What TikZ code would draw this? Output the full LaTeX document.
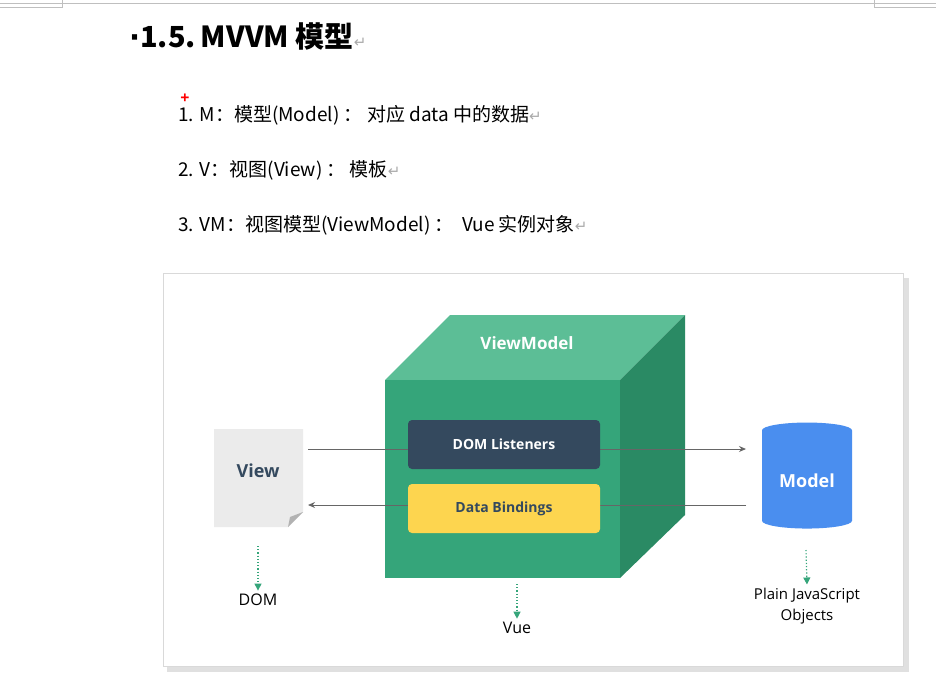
\documentclass[tikz,border=0pt]{standalone}
\usepackage{fontspec}
\setmainfont{Open Sans}
\newfontfamily\cjk{Noto Sans CJK SC}
\newfontfamily\retfont{DejaVu Sans}
\usetikzlibrary{positioning, arrows.meta, shapes.geometric}
\definecolor{vmfront}{HTML}{35A57A}
\definecolor{vmtop}{HTML}{5CBE96}
\definecolor{vmside}{HTML}{2A8A64}
\definecolor{navy}{HTML}{34495E}
\definecolor{bindyel}{HTML}{FDD54F}
\definecolor{modelblue}{HTML}{4A8EEF}
\definecolor{retgray}{HTML}{AAAAAA}
\newcommand{\retmark}{\textcolor{retgray}{\retfont\mdseries\fontsize{15}{15}\selectfont ↵}}
\tikzset{
  item/.style={anchor=base west, font=\fontsize{19}{22}\selectfont\cjk, inner sep=0pt},
  vmbox/.style={rounded corners=4pt, minimum width=192pt, minimum height=49pt, font=\fontsize{14}{16}\selectfont\bfseries},
  flow/.style={-{Stealth[length=7pt,width=6pt]}, draw=black!60, line width=1pt},
  down/.style={-{Triangle[length=7pt,width=7pt]}, draw=vmfront, dotted, line width=1.2pt},
  caption/.style={font=\fontsize{16}{19}\selectfont, align=center}
}
\begin{document}
\begin{tikzpicture}[x=1pt, y=-1pt]
    \useasboundingbox (0,0) rectangle (936,699);
    \fill[white] (0,0) rectangle (936,699);
    % page edge
    \draw[black!25] (0,3) -- (936,3);
    \draw[black!25] (62,0) -- (62,7) -- (0,7);
    \draw[black!25] (874,0) -- (874,7) -- (936,7);
    % heading and list
    \node[item, font=\fontsize{29}{32}\selectfont\cjk\bfseries] (title) at (129,47) {{\retfont\bfseries·}1.5.\,MVVM 模型\retmark};
    \node[item] (m1) at (178,121) {1. M：模型(Model) ： 对应 data 中的数据\retmark};
    \node[item] (m2) at (178,176) {2. V：视图(View) ： 模板\retmark};
    \node[item] (m3) at (178,231) {3. VM：视图模型(ViewModel) ：\ \ Vue 实例对象\retmark};
    \node[red, font=\bfseries\fontsize{16}{16}\selectfont, inner sep=0pt] (mark) at (185,99) {+};
    % card
    \fill[black!12] (167,278) rectangle (909,672);
    \fill[white, draw=black!15] (163,273) rectangle (903,666);
    % cube
    \fill[vmtop] (385,380) -- (450,315) -- (685,315) -- (620,380) -- cycle;
    \fill[vmside] (620,380) -- (685,315) -- (685,515) -- (620,578) -- cycle;
    \fill[vmfront] (385,380) rectangle (620,578);
    \node[white, font=\fontsize{17}{19}\selectfont\bfseries] (vm) at (527,343) {ViewModel};
    % connectors
    \coordinate (vR1) at (308,449);
    \coordinate (mL1) at (746,449);
    \coordinate (vR2) at (308,505);
    \coordinate (mL2) at (746,505);
    \draw[flow] (vR1) -- (mL1);
    \draw[flow] (mL2) -- (vR2);
    \node[vmbox, fill=navy, text=white] (listen) at (504,444.5) {DOM Listeners};
    \node[vmbox, fill=bindyel, text=navy] (bind) at (504,508.5) {Data Bindings};
    % view
    \fill[black!8] (214,429) -- (303,429) -- (303,512) -- (288,527) -- (214,527) -- cycle;
    \fill[black!30] (303,512) -- (290,517) -- (288,527) -- cycle;
    \node[text=navy, font=\fontsize{18}{20}\selectfont\bfseries] (view) at (258,471) {View};
    % model
    \node[cylinder, shape border rotate=90, aspect=0.25, fill=modelblue, minimum height=106pt, minimum width=90pt,
      text=white, font=\fontsize{18}{20}\selectfont\bfseries] (model) at (807,481) {Model};
    % bottom labels
    \node[caption] (dom) at (258,600) {DOM};
    \node[caption] (vue) at (517,628) {Vue};
    \node[caption, font=\fontsize{15}{21}\selectfont] (plain) at (807,606) {Plain JavaScript\\Objects};
    \coordinate (vD) at (258,546);
    \coordinate (cD) at (517,584);
    \coordinate (mD) at (806,550);
    \draw[down] (vD) -- (dom.north);
    \draw[down] (cD) -- (vue.north);
    \draw[down] (mD) -- (plain.north);
\end{tikzpicture}
\end{document}
